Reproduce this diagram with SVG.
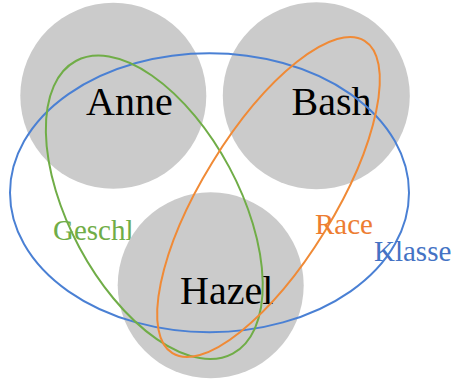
<svg xmlns="http://www.w3.org/2000/svg" width="454" height="379" viewBox="0 0 454 379">
<style>
.node{fill:#cbcbcb;stroke:none}
.name{font-family:"Liberation Serif","Times New Roman",serif;font-size:40px;fill:#000}
.lbl{font-family:"Liberation Serif","Times New Roman",serif;font-size:29px}
.set{fill:none;stroke-width:2}
</style>
<rect width="454" height="379" fill="#fff"/>
<g id="Anne"><circle class="node" cx="113.3" cy="95.8" r="93"/><text class="name" x="86" y="115">Anne</text></g>
<g id="Bash"><circle class="node" cx="316.3" cy="95.8" r="93.5"/><text class="name" x="291.5" y="115">Bash</text></g>
<g id="label-geschl"><text class="lbl" x="53" y="240" fill="#70ad47">Geschl</text></g>
<g id="Hazel"><circle class="node" cx="210.7" cy="285.3" r="93"/><text class="name" x="180" y="304">Hazel</text></g>
<g id="sets">
<ellipse class="set" id="Klasse-set" cx="209.5" cy="192.7" rx="199.5" ry="139.5" stroke="#4a80d4"/>
<ellipse class="set" id="Geschl-set" cx="154.3" cy="207.3" rx="166" ry="85" transform="rotate(61.8 154.3 207.3)" stroke="#70ad47"/>
<ellipse class="set" id="Race-set" cx="268.5" cy="197" rx="183.4" ry="66" transform="rotate(-58.4 268.5 197)" stroke="#f08a36"/>
</g>
<g id="label-race"><text class="lbl" x="315" y="234" fill="#ed7d31">Race</text></g>
<g id="label-klasse"><text class="lbl" x="374" y="261" fill="#4472c4">Klasse</text></g>
</svg>
